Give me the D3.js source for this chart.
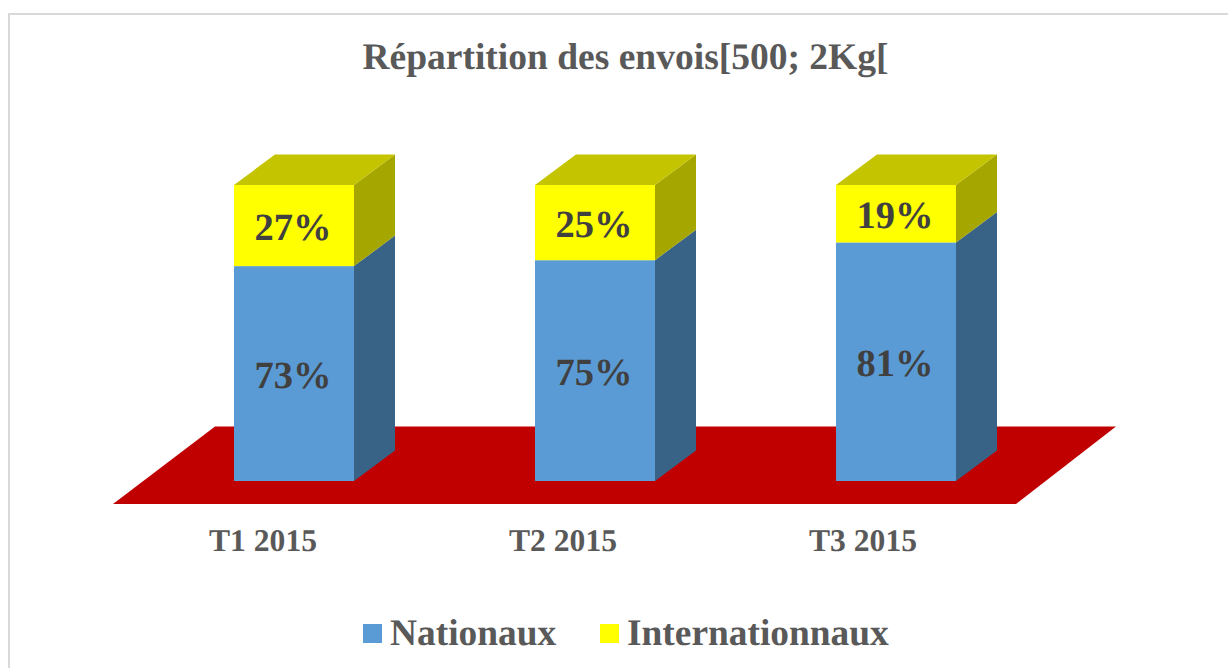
<!DOCTYPE html>
<html>
<head>
<meta charset="utf-8">
<script src="https://cdn.jsdelivr.net/npm/d3@7"></script>
<style>
  html, body { margin: 0; padding: 0; background: #fff; overflow: hidden; }
  text { font-family: "Liberation Serif", serif; font-weight: bold; text-rendering: geometricPrecision; }
</style>
</head>
<body>
<div id="chart"></div>
<script>
const WIDTH = 1228;
const HEIGHT = 668;

const categories = ["T1 2015", "T2 2015", "T3 2015"];
const seriesNames = ["Nationaux", "Internationnaux"];
// labels show them rounded
const nationaux = [72.6, 74.6, 80.6];
const internationnaux = [27.4, 25.4, 19.4];

const COLORS = ["#5b9bd5", "#ffff00"];
const TOP_COLORS = ["#4a83b8", "#c4c400"];
const SIDE_COLORS = ["#386387", "#a6a600"];

const DEPTH_X = 41;
const DEPTH_Y = 30.5;

setup();

function setup() {
  const svg = d3.select("#chart").append("svg")
    .attr("width", WIDTH)
    .attr("height", HEIGHT);

  svg.append("rect")
    .attr("x", 9)
    .attr("y", 14)
    .attr("width", 1300)
    .attr("height", 800)
    .attr("fill", "#fff")
    .attr("stroke", "#d9d9d9")
    .attr("stroke-width", 2);

  svg.append("text")
    .attr("x", 625.5)
    .attr("y", 69)
    .attr("text-anchor", "middle")
    .attr("font-size", 37.5)
    .attr("fill", "#595959")
    .text("Répartition des envois[500; 2Kg[");

  const xScale = d3.scaleBand()
    .domain(categories)
    .range([143.5, 1046.5])
    .paddingInner(0.6)
    .paddingOuter(0.3);

  const labelScale = d3.scalePoint()
    .domain(categories)
    .range([263, 863]);

  const yScale = d3.scaleLinear()
    .domain([0, 100])
    .range([481, 185]);

  drawFloor(svg);

  const stacked = d3.stack()
    .keys([0, 1])
    .value((d, key) => d[key])(categories.map((c, i) => [nationaux[i], internationnaux[i]]));

  const bars = svg.append("g");
  stacked.forEach((layer, s) => {
    layer.forEach((d, i) => {
      const x = Math.round(xScale(categories[i]));
      const w = Math.round(xScale.bandwidth());
      const y0 = yScale(d[0]);
      const y1 = yScale(d[1]);
      bars.append("polygon")
        .attr("points", [[x + w, y1], [x + w + DEPTH_X, y1 - DEPTH_Y], [x + w + DEPTH_X, y0 - DEPTH_Y], [x + w, y0]].join(" "))
        .attr("fill", SIDE_COLORS[s]);
      if (s === 1) {
        bars.append("polygon")
          .attr("points", [[x, y1], [x + DEPTH_X, y1 - DEPTH_Y], [x + w + DEPTH_X, y1 - DEPTH_Y], [x + w, y1]].join(" "))
          .attr("fill", TOP_COLORS[s]);
      }
      bars.append("rect")
        .attr("x", x)
        .attr("y", y1)
        .attr("width", w)
        .attr("height", y0 - y1)
        .attr("fill", COLORS[s]);
      bars.append("text")
        .attr("x", x + w / 2 - 1)
        .attr("y", (y0 + y1) / 2 + 14)
        .attr("text-anchor", "middle")
        .attr("font-size", 38.5)
        .attr("fill", "#404040")
        .text(Math.round(d[1] - d[0]) + "%");
    });
  });

  // category labels
  svg.append("g").selectAll("text")
    .data(categories)
    .enter()
    .append("text")
    .attr("x", d => labelScale(d))
    .attr("y", 551)
    .attr("text-anchor", "middle")
    .attr("font-size", 31.6)
    .attr("fill", "#595959")
    .text(d => d);

  // legend
  const legendX = [363, 600];
  const legendTextX = [390, 627];
  const legend = svg.append("g");
  seriesNames.forEach((name, i) => {
    legend.append("rect")
      .attr("x", legendX[i])
      .attr("y", 624)
      .attr("width", 19)
      .attr("height", 19)
      .attr("fill", COLORS[i]);
    legend.append("text")
      .attr("x", legendTextX[i])
      .attr("y", 645)
      .attr("font-size", 37.4)
      .attr("fill", "#595959")
      .text(name);
  });
}

function drawFloor(svg) {
  const floor = [[113, 504], [215, 426.5], [1116, 426.5], [1016, 504]];
  svg.append("polygon")
    .attr("points", floor.join(" "))
    .attr("fill", "#c00000");
}
</script>
</body>
</html>
